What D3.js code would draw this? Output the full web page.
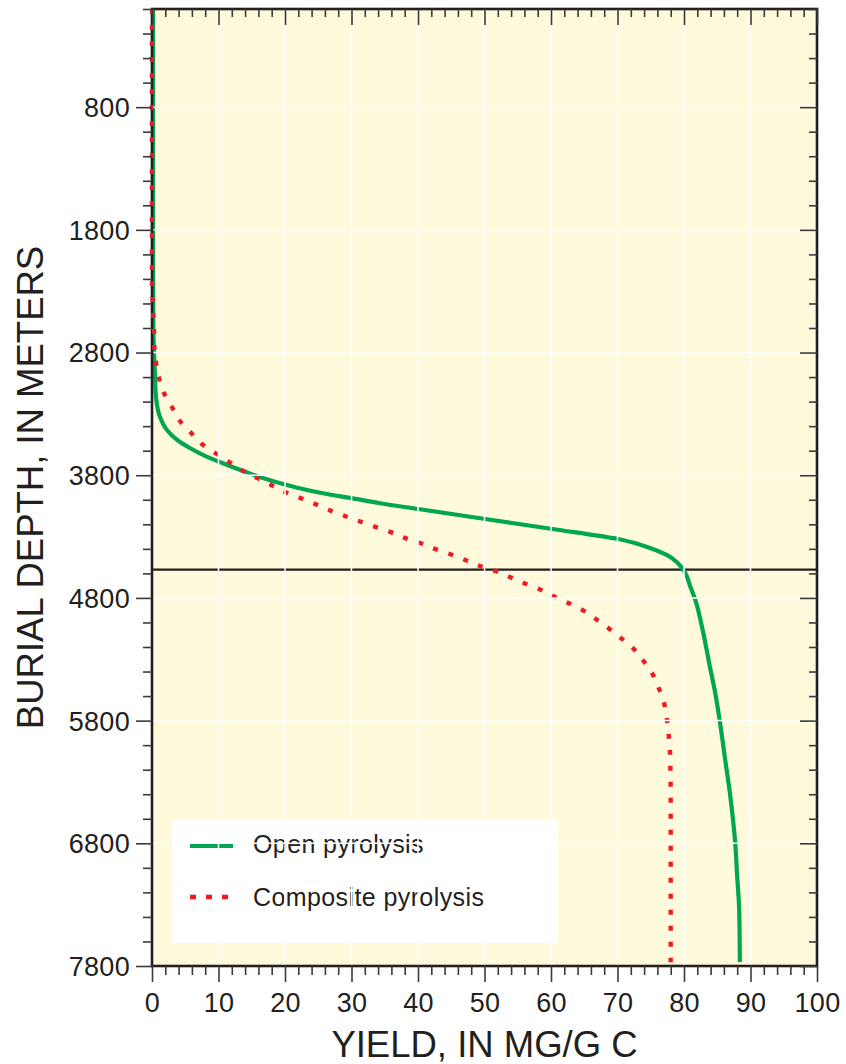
<!DOCTYPE html>
<html>
<head>
<meta charset="utf-8">
<script src="https://cdn.jsdelivr.net/npm/d3@7"></script>
<style>
  html, body { margin: 0; padding: 0; background: #ffffff; }
  svg { display: block; font-family: "Liberation Sans", Arial, Helvetica, sans-serif; }
</style>
</head>
<body>
<svg id="chart" width="846" height="1064"></svg>
<script>
// Yield (mg/g C) versus burial depth (m) for two pyrolysis methods.
const yieldTicks = [0, 10, 20, 30, 40, 50, 60, 70, 80, 90, 100];
const depthTicks = [800, 1800, 2800, 3800, 4800, 5800, 6800, 7800];

// [depth in meters, yield in mg/g C]
const openPyrolysis = [
  [0, 0.15], [2000, 0.15], [2600, 0.2], [2804, 0.3], [3000, 0.45], [3162, 0.6],
  [3325, 1.2], [3431, 2.25], [3513, 3.8], [3578, 5.7], [3651, 8.3], [3716, 11.3],
  [3765, 13.7], [3814, 16.2], [3871, 19.7], [3920, 23.3], [3953, 26.3],
  [3985, 29.8], [4028, 34.3], [4075, 40.0], [4157, 50.1], [4238, 60.2],
  [4320, 70.1], [4393, 74.9], [4450, 77.4], [4507, 78.9], [4556, 79.7],
  [4597, 80.2], [4700, 80.9], [4817, 81.7], [5086, 82.9], [5363, 83.9],
  [5575, 84.7], [5811, 85.4], [6121, 86.2], [6390, 86.9], [6797, 87.7],
  [7074, 88.0], [7343, 88.3], [7767, 88.4]
];

const compositePyrolysis = [
  [0, 0], [2200, 0], [2500, 0.2], [2616, 0.3], [2750, 0.35], [2877, 0.6],
  [3007, 1.05], [3130, 1.8], [3244, 3.0], [3358, 4.2], [3456, 5.9], [3545, 7.5],
  [3619, 9.5], [3692, 11.6], [3765, 13.7], [3822, 15.8], [3879, 17.9],
  [3936, 20.0], [3985, 22.3], [4034, 24.5], [4083, 26.6], [4132, 29.0],
  [4210, 33.0], [4262, 35.8], [4311, 38.0], [4352, 40.3], [4401, 42.6],
  [4442, 44.8], [4491, 47.1], [4540, 49.3], [4580, 51.6], [4629, 53.8],
  [4678, 55.9], [4727, 58.2], [4784, 60.3], [4841, 62.6], [4898, 64.7],
  [4970, 66.7], [5045, 68.6], [5126, 70.5], [5208, 72.3], [5306, 73.8],
  [5412, 75.2], [5534, 76.2], [5656, 77.0], [5778, 77.4], [5917, 77.7],
  [6047, 77.9], [6500, 78.0], [7770, 78.0]
];

const boundaryDepth = 4570;

const seriesNames = ["Open pyrolysis", "Composite pyrolysis"];
const seriesColors = ["#00a651", "#ed1c24"];

const svg = d3.select("#chart");
const plot = { left: 152, right: 817, top: 9, bottom: 966 };

const x = d3.scaleLinear().domain([0, 100]).range([plot.left, plot.right]);
const y = d3.scaleLinear().domain([0, 7800]).range([plot.top, plot.bottom]);

const ink = "#231f20";

// Plot background
svg.append("rect")
  .attr("x", plot.left).attr("y", plot.top)
  .attr("width", plot.right - plot.left).attr("height", plot.bottom - plot.top)
  .attr("fill", "#fefadb");

// Boundary line across the plot
svg.append("line")
  .attr("x1", x(0)).attr("x2", x(100))
  .attr("y1", y(boundaryDepth)).attr("y2", y(boundaryDepth))
  .attr("stroke", ink).attr("stroke-width", 2.2);

const line = d3.line()
  .x(d => x(d[1]))
  .y(d => y(d[0]))
  .curve(d3.curveMonotoneY);

// Open pyrolysis curve
svg.append("path")
  .datum(openPyrolysis)
  .attr("d", line)
  .attr("fill", "none")
  .attr("stroke", seriesColors[0])
  .attr("stroke-width", 4.2)
  .attr("stroke-linecap", "butt");

// Frame
svg.append("rect")
  .attr("x", plot.left).attr("y", plot.top)
  .attr("width", plot.right - plot.left).attr("height", plot.bottom - plot.top)
  .attr("fill", "none")
  .attr("stroke", ink).attr("stroke-width", 2.6);

// Composite pyrolysis curve
svg.append("path")
  .datum(compositePyrolysis)
  .attr("d", line)
  .attr("fill", "none")
  .attr("stroke", seriesColors[1])
  .attr("stroke-width", 4.4)
  .attr("stroke-dasharray", "5,11");

// Legend
const legend = svg.append("g");
legend.append("rect")
  .attr("x", 172).attr("y", 820).attr("width", 386).attr("height", 123)
  .attr("fill", "#ffffff");
const legendRows = [846, 897];
seriesNames.forEach((name, i) => {
  legend.append("line")
    .attr("x1", 190).attr("x2", i === 0 ? 233 : 228)
    .attr("y1", legendRows[i]).attr("y2", legendRows[i])
    .attr("stroke", seriesColors[i])
    .attr("stroke-width", i === 0 ? 4 : 4.4)
    .attr("stroke-dasharray", i === 0 ? null : "6,10");
  legend.append("text")
    .attr("x", 253).attr("y", legendRows[i] + (i === 0 ? 7 : 9))
    .attr("font-size", 25)
    .attr("letter-spacing", 0.4)
    .attr("fill", ink)
    .text(name);
});

// White grid lines drawn over the data
const grid = svg.append("g").attr("stroke", "#ffffff").attr("stroke-width", 1.5);
grid.selectAll("line.v")
  .data(yieldTicks.filter(v => v > 0 && v < 100))
  .join("line")
  .attr("x1", d => x(d)).attr("x2", d => x(d))
  .attr("y1", plot.top + 1.5).attr("y2", plot.bottom - 1.5);
grid.selectAll("line.h")
  .data(depthTicks.filter(v => v < 7800))
  .join("line")
  .attr("y1", d => y(d)).attr("y2", d => y(d))
  .attr("x1", plot.left + 1.5).attr("x2", plot.right - 1.5);

// Axes
const minorYield = d3.range(0, 101, 2).filter(v => v % 10 !== 0);
const minorDepth = d3.range(0, 7801, 200).filter(v => !depthTicks.includes(v));

function styleAxis(g) {
  g.select(".domain").remove();
  g.selectAll(".tick line").attr("stroke", "#3a3a3a").attr("stroke-width", 1.6);
}

// Bottom
svg.append("g")
  .attr("transform", `translate(0,${plot.bottom})`)
  .call(d3.axisBottom(x).tickValues(minorYield).tickSize(9).tickFormat(""))
  .call(styleAxis);
svg.append("g")
  .attr("transform", `translate(0,${plot.bottom})`)
  .call(d3.axisBottom(x).tickValues(yieldTicks).tickSize(16).tickFormat(d3.format("d")))
  .call(styleAxis)
  .call(g => g.selectAll("text")
    .attr("y", 46).attr("dy", 0)
    .attr("font-size", 27)
    .attr("letter-spacing", 0.3)
    .attr("font-family", "'Liberation Sans', Arial, sans-serif")
    .attr("fill", ink));

// Top (inward)
svg.append("g")
  .attr("transform", `translate(0,${plot.top})`)
  .call(d3.axisBottom(x).tickValues(minorYield).tickSize(8).tickFormat(""))
  .call(styleAxis);
svg.append("g")
  .attr("transform", `translate(0,${plot.top})`)
  .call(d3.axisBottom(x).tickValues(yieldTicks).tickSize(16).tickFormat(""))
  .call(styleAxis);

// Left
svg.append("g")
  .attr("transform", `translate(${plot.left},0)`)
  .call(d3.axisLeft(y).tickValues(minorDepth).tickSize(9).tickFormat(""))
  .call(styleAxis);
svg.append("g")
  .attr("transform", `translate(${plot.left},0)`)
  .call(d3.axisLeft(y).tickValues(depthTicks).tickSize(16).tickFormat(d3.format("d")))
  .call(styleAxis)
  .call(g => g.selectAll("text")
    .attr("x", -22).attr("dy", "0.35em")
    .attr("font-size", 27)
    .attr("letter-spacing", 0.3)
    .attr("font-family", "'Liberation Sans', Arial, sans-serif")
    .attr("fill", ink));

// Right (inward)
svg.append("g")
  .attr("transform", `translate(${plot.right},0)`)
  .call(d3.axisLeft(y).tickValues(minorDepth).tickSize(-8).tickFormat(""))
  .call(styleAxis)
  .call(g => g.selectAll(".tick line").attr("x2", -8));
svg.append("g")
  .attr("transform", `translate(${plot.right},0)`)
  .call(d3.axisLeft(y).tickValues(depthTicks).tickSize(-17).tickFormat(""))
  .call(styleAxis)
  .call(g => g.selectAll(".tick line").attr("x2", -17));

// Axis titles
svg.append("text")
  .attr("x", (plot.left + plot.right) / 2)
  .attr("y", 1057)
  .attr("text-anchor", "middle")
  .attr("font-size", 36.5)
  .attr("fill", ink)
  .text("YIELD, IN MG/G C");

svg.append("text")
  .attr("transform", `translate(43,${(plot.top + plot.bottom) / 2}) rotate(-90)`)
  .attr("text-anchor", "middle")
  .attr("font-size", 36.5)
  .attr("fill", ink)
  .text("BURIAL DEPTH, IN METERS");
</script>
</body>
</html>
